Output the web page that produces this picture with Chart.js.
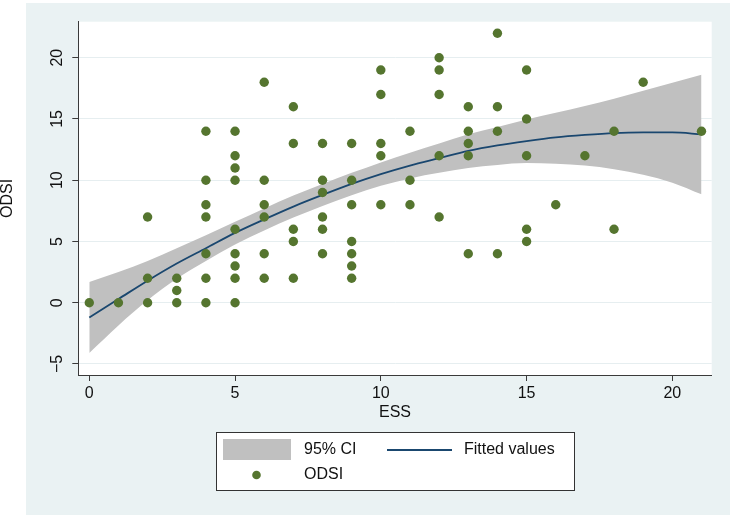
<!DOCTYPE html>
<html>
<head>
<meta charset="utf-8">
<script src="https://cdn.jsdelivr.net/npm/chart.js@4.4.1/dist/chart.umd.min.js"></script>
<style>
  html, body { margin: 0; padding: 0; background: #ffffff; }
  #wrap { position: relative; width: 732px; height: 518px; }
</style>
</head>
<body>
<div id="wrap"><canvas id="fitChart" width="732" height="518"></canvas></div>
<script>
"use strict";

// ESS on x, ODSI on y (one entry per observation)
var essValues = [
    0, 1,
    2, 2, 2,
    3, 3, 3,
    4, 4, 4, 4, 4, 4, 4,
    5, 5, 5, 5, 5, 5, 5, 5, 5,
    6, 6, 6, 6, 6, 6,
    7, 7, 7, 7, 7,
    8, 8, 8, 8, 8, 8,
    9, 9, 9, 9, 9, 9, 9,
    10, 10, 10, 10, 10,
    11, 11, 11,
    12, 12, 12, 12, 12,
    13, 13, 13, 13, 13,
    14, 14, 14, 14,
    15, 15, 15, 15, 15,
    16, 17, 18, 18, 19, 21
];
var odsiValues = [
    0, 0,
    7, 2, 0,
    2, 1, 0,
    14, 10, 8, 7, 4, 2, 0,
    14, 12, 11, 10, 6, 4, 3, 2, 0,
    18, 10, 8, 7, 4, 2,
    16, 13, 6, 5, 2,
    13, 10, 9, 7, 6, 4,
    13, 10, 8, 5, 4, 3, 2,
    19, 17, 13, 12, 8,
    14, 10, 8,
    20, 19, 17, 12, 7,
    16, 14, 13, 12, 4,
    22, 16, 14, 4,
    19, 15, 12, 6, 5,
    8, 12, 14, 6, 18, 14
];

// fitted curve and 95% CI at each ESS value
var fitEss = [0, 1, 2, 3, 4, 5, 6, 7, 8, 9, 10, 11, 12, 13, 14, 15, 16, 17, 18, 19, 20, 21];
var fittedValues = [-1.2, 0.3, 1.8, 3.2, 4.45, 5.7, 6.8, 7.85, 8.8, 9.7, 10.5, 11.2, 11.8, 12.4, 12.85, 13.2, 13.5, 13.7, 13.85, 13.9, 13.9, 13.75];
var ciUpper = [1.7, 2.5, 3.4, 4.45, 5.5, 6.6, 7.7, 8.75, 9.7, 10.6, 11.45, 12.25, 13.0, 13.75, 14.35, 14.95, 15.5, 16.05, 16.65, 17.3, 17.95, 18.6];
var ciLower = [-4.1, -1.85, 0.2, 1.95, 3.4, 4.75, 5.9, 6.95, 7.9, 8.78, 9.55, 10.15, 10.6, 11.0, 11.25, 11.4, 11.35, 11.2, 10.9, 10.45, 9.8, 8.85];

var essTicks = [0, 5, 10, 15, 20];
var odsiTicks = [-5, 0, 5, 10, 15, 20];

var dotColor = '#55752f';
var lineColor = '#1a476f';
var bandColor = '#c0c0c0';
var panelColor = '#eaf2f3';
var fontFamily = '"Liberation Sans", Arial, Helvetica, sans-serif';

function pairs(xs, ys) {
    return xs.map(function (x, i) { return { x: x, y: ys[i] }; });
}

/* backgrounds, axis titles and the boxed legend */
var stataFrame = {
    id: 'stataFrame',
    beforeDraw: function (chart) {
        var c = chart.ctx, a = chart.chartArea;
        c.save();
        c.fillStyle = panelColor;
        c.fillRect(26, 3, 704, 512);
        c.fillStyle = '#ffffff';
        c.fillRect(a.left, a.top, a.right - a.left, a.bottom - a.top);
        c.restore();
    },
    afterDraw: function (chart) {
        var c = chart.ctx, a = chart.chartArea;
        c.save();
        c.fillStyle = '#111111';
        c.font = '16px ' + fontFamily;
        c.textAlign = 'center';
        c.textBaseline = 'middle';
        c.fillText('ESS', (a.left + a.right) / 2, 413);

        c.save();
        c.translate(8, (a.top + a.bottom) / 2);
        c.rotate(-Math.PI / 2);
        c.fillText('ODSI', 0, 0);
        c.restore();

        // legend
        c.fillStyle = '#ffffff';
        c.fillRect(216, 432, 358, 58);
        c.strokeStyle = '#333333';
        c.lineWidth = 1;
        c.strokeRect(216.5, 432.5, 358, 58);

        c.fillStyle = bandColor;
        c.fillRect(223, 439, 68, 21);

        c.strokeStyle = lineColor;
        c.lineWidth = 2;
        c.beginPath();
        c.moveTo(387, 450);
        c.lineTo(452, 450);
        c.stroke();

        c.fillStyle = dotColor;
        c.beginPath();
        c.arc(256.5, 475, 4.3, 0, Math.PI * 2);
        c.fill();

        c.fillStyle = '#111111';
        c.textAlign = 'left';
        c.fillText('95% CI', 304, 450);
        c.fillText('Fitted values', 464, 450);
        c.fillText('ODSI', 304, 475);
        c.restore();
    }
};

var ctx = document.getElementById('fitChart').getContext('2d');
var chart = new Chart(ctx, {
    type: 'scatter',
    data: {
        datasets: [
            {
                label: 'ODSI',
                data: pairs(essValues, odsiValues),
                backgroundColor: dotColor,
                borderColor: dotColor,
                borderWidth: 0,
                pointRadius: 4.7,
                pointHoverRadius: 4.7
            },
            {
                type: 'line',
                label: 'Fitted values',
                data: pairs(fitEss, fittedValues),
                borderColor: lineColor,
                borderWidth: 1.8,
                pointRadius: 0,
                fill: false,
                cubicInterpolationMode: 'monotone'
            },
            {
                type: 'line',
                label: 'ci low',
                data: pairs(fitEss, ciLower),
                borderWidth: 0,
                borderColor: 'rgba(0,0,0,0)',
                pointRadius: 0,
                fill: false,
                cubicInterpolationMode: 'monotone'
            },
            {
                type: 'line',
                label: '95% CI',
                data: pairs(fitEss, ciUpper),
                borderWidth: 0,
                borderColor: 'rgba(0,0,0,0)',
                backgroundColor: bandColor,
                pointRadius: 0,
                fill: '-1',
                cubicInterpolationMode: 'monotone'
            }
        ]
    },
    options: {
        responsive: false,
        animation: false,
        events: [],
        layout: {
            padding: { left: 42, top: 21.7, right: 20.3, bottom: 0 }
        },
        font: { family: fontFamily, size: 16 },
        plugins: {
            legend: { display: false },
            tooltip: { enabled: false }
        },
        scales: {
            x: {
                type: 'linear',
                min: -0.377,
                max: 21.35,
                afterBuildTicks: function (scale) {
                    scale.ticks = essTicks.map(function (v) { return { value: v }; });
                },
                afterFit: function (scale) { scale.height = 143; },
                border: { display: true, color: '#3a3a3a', width: 1 },
                grid: {
                    drawOnChartArea: false,
                    drawTicks: true,
                    tickLength: 6,
                    tickColor: '#3a3a3a'
                },
                ticks: {
                    color: '#111111',
                    padding: 3,
                    maxRotation: 0,
                    font: { family: fontFamily, size: 16 }
                }
            },
            y: {
                type: 'linear',
                min: -5.9,
                max: 22.94,
                afterBuildTicks: function (scale) {
                    scale.ticks = odsiTicks.map(function (v) { return { value: v }; });
                },
                afterFit: function (scale) { scale.width = 36.3; },
                border: { display: true, color: '#3a3a3a', width: 1 },
                grid: {
                    color: '#e6eef0',
                    lineWidth: 1,
                    drawTicks: true,
                    tickLength: 6,
                    tickColor: '#3a3a3a'
                },
                ticks: {
                    color: '#111111',
                    padding: 6,
                    minRotation: 90,
                    maxRotation: 90,
                    crossAlign: 'center',
                    font: { family: fontFamily, size: 16 },
                    callback: function (v) { return v < 0 ? '\u2212' + Math.abs(v) : String(v); }
                }
            }
        }
    },
    plugins: [stataFrame]
});
</script>
</body>
</html>
